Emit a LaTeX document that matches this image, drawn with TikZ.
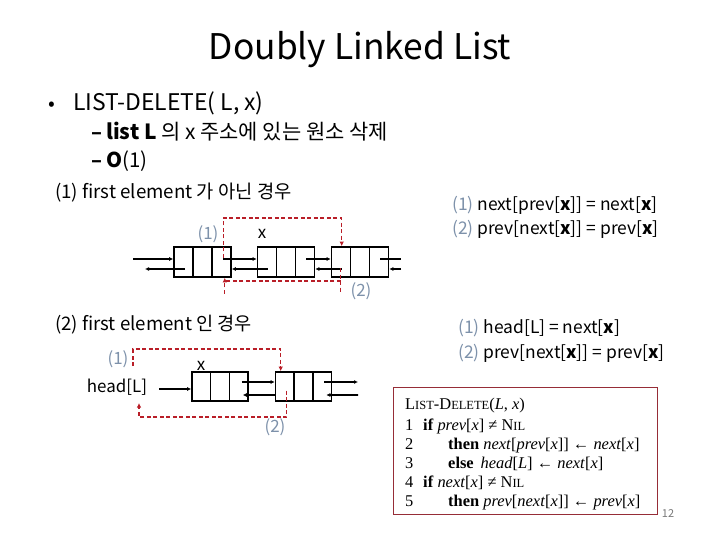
\documentclass[tikz,border=0pt]{standalone}
\usepackage{fontspec}
\setmainfont{Noto Sans CJK KR}
\newfontfamily\codefont{Liberation Serif}
\usetikzlibrary{arrows.meta,calc}
\definecolor{numc}{RGB}{125,145,170}
\definecolor{redl}{RGB}{185,30,40}
\definecolor{codeb}{RGB}{150,45,55}
\definecolor{pgc}{RGB}{120,120,120}
\tikzset{
  txt/.style={inner sep=0pt, anchor=base west},
  lnode/.style={draw, line width=1.6bp, minimum width=57bp, minimum height=30bp, inner sep=0pt,
    path picture={
      \draw[line width=1.6bp] ($(path picture bounding box.north west)!1/3!(path picture bounding box.north east)$) -- ($(path picture bounding box.south west)!1/3!(path picture bounding box.south east)$);
      \draw[line width=1.6bp] ($(path picture bounding box.north west)!2/3!(path picture bounding box.north east)$) -- ($(path picture bounding box.south west)!2/3!(path picture bounding box.south east)$);
    }},
  ptr/.style={line width=1.6bp, -{Latex[length=4bp,width=4bp]}},
  plain/.style={line width=1.6bp},
  rdash/.style={redl, line width=1.2bp, dash pattern=on 4bp off 2.5bp},
  rptr/.style={rdash, -{Latex[length=4.5bp,width=4.5bp]}},
  num/.style={text=numc}
}
\begin{document}
\begin{tikzpicture}[x=1bp,y=-1bp]
\useasboundingbox (0,0) rectangle (720,540);

% title and bullets
\node[font=\fontsize{35.5}{40}\selectfont, inner sep=0pt] (title) at (360,50) {Doubly Linked List};
\node[txt, font=\fontsize{20}{24}\selectfont] (bul) at (48,111) {•};
\node[txt, font=\fontsize{23}{27}\selectfont] (b1) at (73,111) {LIST-DELETE( L, x)};
\node[txt, font=\fontsize{20}{24}\selectfont\bfseries] (d1) at (91,140) {–};
\node[txt, font=\fontsize{21}{24}\selectfont] (s1) at (106,140) {\textbf{list L} 의 x 주소에 있는 원소 삭제};
\node[txt, font=\fontsize{20}{24}\selectfont\bfseries] (d2) at (91,168) {–};
\node[txt, font=\fontsize{20.5}{24}\selectfont] (s2) at (106,168) {\textbf{O}(1)};
\node[txt, font=\fontsize{18.8}{22}\selectfont] (c1) at (55,199) {(1) first element 가 아닌 경우};
\node[txt, font=\fontsize{18.7}{22}\selectfont] (c2) at (55,330) {(2) first element 인 경우};

% right formulas
\node[txt, font=\fontsize{17.5}{20}\selectfont] (f1) at (452,211) {\textcolor{numc}{(1)} next[prev[\textbf{x}]] = next[\textbf{x}]};
\node[txt, font=\fontsize{17.5}{20}\selectfont] (f2) at (452,235) {\textcolor{numc}{(2)} prev[next[\textbf{x}]] = prev[\textbf{x}]};
\node[txt, font=\fontsize{17.5}{20}\selectfont] (f3) at (458,333) {\textcolor{numc}{(1)} head[L] = next[\textbf{x}]};
\node[txt, font=\fontsize{17.5}{20}\selectfont] (f4) at (458,358) {\textcolor{numc}{(2)} prev[next[\textbf{x}]] = prev[\textbf{x}]};

% ---- row 1 ----
\node[lnode] (A) at (202.5,262) {};
\node[lnode] (B) at (286,262) {};
\node[lnode] (C) at (360,262) {};
\coordinate (inA) at (133,259);
\coordinate (outA) at (145,269);
\coordinate (outC) at (401,259);
\coordinate (inC) at (401,269);
\draw[ptr] (inA) -- ($(A.west)+(0,-3)$);
\draw[ptr] ($(A.west)+(12,7)$) -- (outA);
\draw[ptr] ($(A.east)+(-9,-3)$) -- ($(B.west)+(0,-3)$);
\draw[ptr] ($(B.west)+(11,7)$) -- ($(A.east)+(0,7)$);
\draw[ptr] ($(B.east)+(-9,-3)$) -- ($(C.west)+(0,-3)$);
\draw[ptr] ($(C.west)+(11,7)$) -- ($(B.east)+(0,7)$);
\draw[plain] ($(C.east)+(-9,-3)$) -- (outC);
\draw[ptr] (inC) -- ($(C.east)+(0,7)$);

\draw[rptr] ($(A.east)+(-8,-4)$) -- ++(0,-40) -| ($(C.north west)+(11,0)$);
\draw[rdash] ($(C.west)+(10,6)$) -- ++(0,25);
\draw[rdash] ($(C.west)+(10,19)$) -| ($(A.south east)+(-7,4)$);
\draw[rptr] ($(A.south east)+(-7,16)$) -- ($(A.south east)+(-7,0)$);
\node[num, font=\fontsize{17}{20}\selectfont, inner sep=0pt] (l1) at (208,234) {(1)};
\node[font=\fontsize{17}{20}\selectfont, inner sep=0pt] (lx) at (262,234) {x};
\node[num, font=\fontsize{17}{20}\selectfont, inner sep=0pt] (l2) at (361,291) {(2)};

% ---- row 2 ----
\node[lnode, minimum width=56bp, minimum height=29bp] (X) at (220,386.5) {};
\node[lnode, minimum width=56bp, minimum height=29bp] (D) at (303.5,386.5) {};
\node[font=\fontsize{17}{20}\selectfont, inner sep=0pt] (head) at (117,387) {head[L]};
\node[num, font=\fontsize{17}{20}\selectfont, inner sep=0pt] (m1) at (118,359) {(1)};
\node[font=\fontsize{17}{20}\selectfont, inner sep=0pt] (mx) at (201,366) {x};
\node[num, font=\fontsize{17}{20}\selectfont, inner sep=0pt] (m2) at (275,427) {(2)};
\coordinate (hs) at (159,389);
\coordinate (outD) at (358,382);
\coordinate (inD) at (358,395);
\draw[ptr] (hs) -- ($(X.west)+(0,2.5)$);
\draw[ptr] ($(X.east)+(-7,-4.5)$) -- ($(D.west)+(0,-4.5)$);
\draw[ptr] ($(D.west)+(0,8.5)$) -- ($(X.east)+(-6,8.5)$);
\draw[ptr] ($(D.east)+(-8,-4.5)$) -- (outD);
\draw[ptr] (inD) -- ($(D.east)+(-6,8.5)$);

\coordinate (r1s) at (133,366);
\coordinate (r2e) at (139,403);
\draw[rptr] (r1s) -- ++(0,-17) -| ($(D.north west)+(6,0)$);
\draw[rptr] ($(D.west)+(12,4)$) |- (139,417) -- (r2e);

% ---- code box ----
\node[draw=codeb, line width=1bp, minimum width=264bp, minimum height=127bp, inner sep=0pt] (code) at (525,450.5) {};
\begin{scope}[every node/.style={txt, font=\codefont\fontsize{16.5}{19}\selectfont}]
\node (ct) at (405,409) {L{\fontsize{12.5}{14}\selectfont IST}-D{\fontsize{12.5}{14}\selectfont ELETE}(\textit{L}, \textit{x})};
\node (n1) at (405,430) {1};
\node (n2) at (405,449) {2};
\node (n3) at (405,468) {3};
\node (n4) at (405,487) {4};
\node (n5) at (405,506) {5};
\node (k1) at (423,430) {\textbf{if} \textit{prev}[\textit{x}] ≠ N{\fontsize{12.5}{14}\selectfont IL}};
\node (k2) at (448,449) {\textbf{then} \textit{next}[\textit{prev}[\textit{x}]] ← \textit{next}[\textit{x}]};
\node (k3) at (448,468) {\textbf{else}\, \textit{head}[\textit{L}] ← \textit{next}[\textit{x}]};
\node (k4) at (423,487) {\textbf{if} \textit{next}[\textit{x}] ≠ N{\fontsize{12.5}{14}\selectfont IL}};
\node (k5) at (448,506) {\textbf{then} \textit{prev}[\textit{next}[\textit{x}]] ← \textit{prev}[\textit{x}]};
\end{scope}
\node[text=pgc, font=\fontsize{11}{13}\selectfont, inner sep=0pt] (pg) at (668,514) {12};
\end{tikzpicture}
\end{document}
